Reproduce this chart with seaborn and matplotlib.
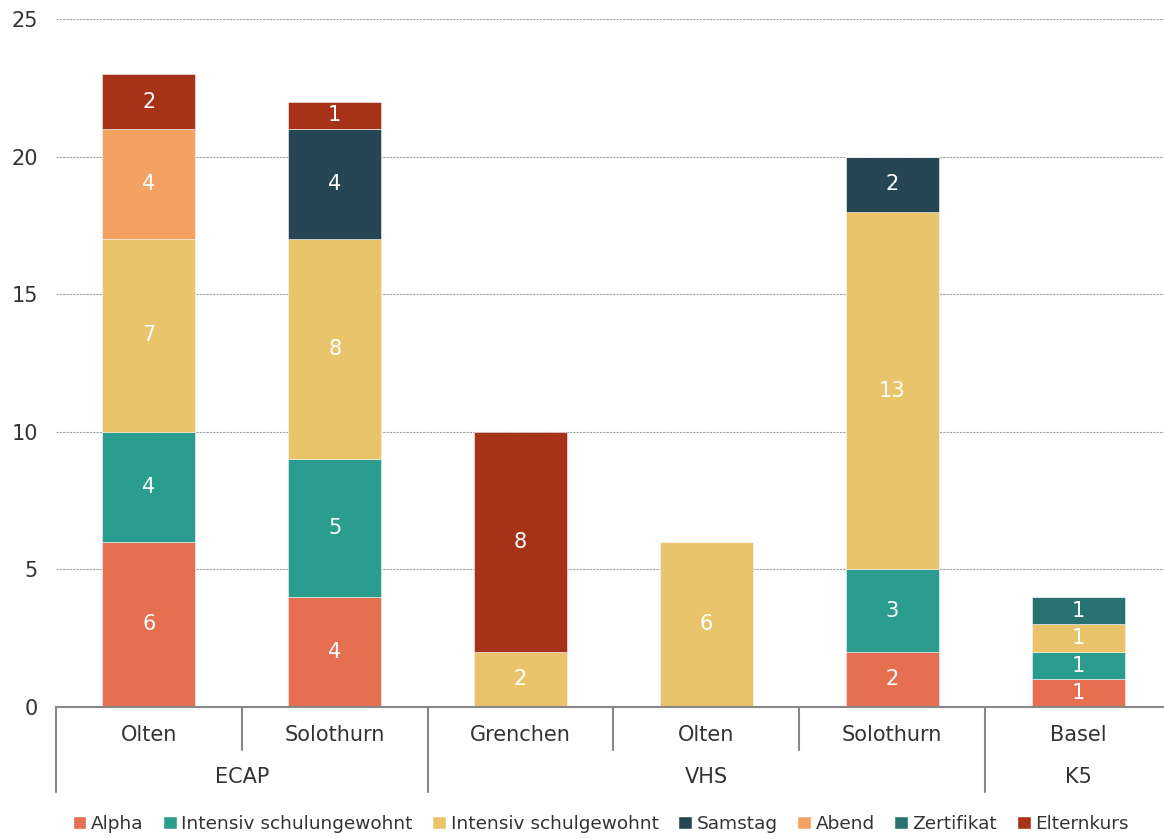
import numpy as np
import pandas as pd
import matplotlib
matplotlib.use("Agg")
import matplotlib.pyplot as plt
from matplotlib.patches import Patch
import seaborn as sns

# =========================
# Data
# =========================
groups = ["ECAP", "ECAP", "VHS", "VHS", "VHS", "K5"]
places = ["Olten", "Solothurn", "Grenchen", "Olten", "Solothurn", "Basel"]
series = ["Alpha", "Intensiv schulungewohnt", "Intensiv schulgewohnt",
          "Samstag", "Abend", "Zertifikat", "Elternkurs"]
alpha = [6, 4, 0, 0, 2, 1]
intensiv_ungewohnt = [4, 5, 0, 0, 3, 1]
intensiv_gewohnt = [7, 8, 2, 6, 13, 1]
samstag = [0, 4, 0, 0, 2, 0]
abend = [4, 0, 0, 0, 0, 0]
zertifikat = [0, 0, 0, 0, 0, 1]
elternkurs = [2, 1, 8, 0, 0, 0]
values = [alpha, intensiv_ungewohnt, intensiv_gewohnt, samstag, abend, zertifikat, elternkurs]
colors = ["#E76F51", "#2A9D8F", "#E9C46A", "#264653", "#F4A261", "#287271", "#A63218"]

keys = [f"{g}|{p}" for g, p in zip(groups, places)]

# =========================
# Plot
# =========================
sns.set_style("white")
plt.rcParams["font.family"] = ["DejaVu Sans"]

fig = plt.figure(figsize=(11.64, 8.39), dpi=100)
ax = fig.add_axes([56 / 1164, 1 - 707 / 839, 1115 / 1164, (707 - 19) / 839])

bottom = np.zeros(len(keys))
for name, vals, col in zip(series, values, colors):
    df = pd.DataFrame({"key": keys, "val": vals})
    sns.barplot(data=df, x="key", y="val", order=keys, color=col, width=0.5,
                saturation=1, bottom=bottom, linewidth=0.4, edgecolor="#f5f5f5", ax=ax)
    for i, v in enumerate(vals):
        if v > 0:
            ax.text(i, bottom[i] + v / 2, str(v), ha="center", va="center",
                    color="white", fontsize=15)
    bottom = bottom + np.array(vals)

ax.set_xlim(-0.5, 5.5)
ax.set_ylim(0, 25)
ax.set_yticks([0, 5, 10, 15, 20, 25])
ax.tick_params(axis="y", labelsize=15, colors="#333333", length=0, pad=13)
ax.set_xticks([])
ax.set_xlabel("")
ax.set_ylabel("")
for y in [5, 10, 15, 20, 25]:
    ax.axhline(y, color="#a0a0a0", linestyle=(0, (2, 1)), linewidth=0.8, zorder=0)
for s in ["left", "right", "top"]:
    ax.spines[s].set_visible(False)
ax.spines["bottom"].set_color("#888888")
ax.spines["bottom"].set_linewidth(1.5)

# category labels and dividers below the axis
trans = ax.get_xaxis_transform()
ax_h = (707 - 19)


def ypix(py):
    return (707 - py) / ax_h


for i, p in enumerate(places):
    ax.text(i, ypix(735), p, ha="center", va="center", fontsize=15,
            color="#333333", transform=trans)
group_names = ["ECAP", "VHS", "K5"]
group_centers = [0.5, 3.0, 5.0]
for g, c in zip(group_names, group_centers):
    ax.text(c, ypix(777), g, ha="center", va="center", fontsize=15,
            color="#333333", transform=trans)
for x in [-0.5, 1.5, 4.5]:
    ax.plot([x, x], [0, ypix(792)], color="#888888", lw=1.5, transform=trans, clip_on=False)
for x in [0.5, 2.5, 3.5]:
    ax.plot([x, x], [0, ypix(750)], color="#888888", lw=1.5, transform=trans, clip_on=False)

handles = [Patch(facecolor=c, label=s) for s, c in zip(series, colors)]
fig.legend(handles=handles, loc="center", bbox_to_anchor=(0.516, 1 - 824 / 839), ncol=7,
           frameon=False, fontsize=13.3, handlelength=0.75, handleheight=0.75,
           handletextpad=0.25, columnspacing=1.05, labelcolor="#333333")

plt.savefig("out.png", dpi=100)
plt.close()
